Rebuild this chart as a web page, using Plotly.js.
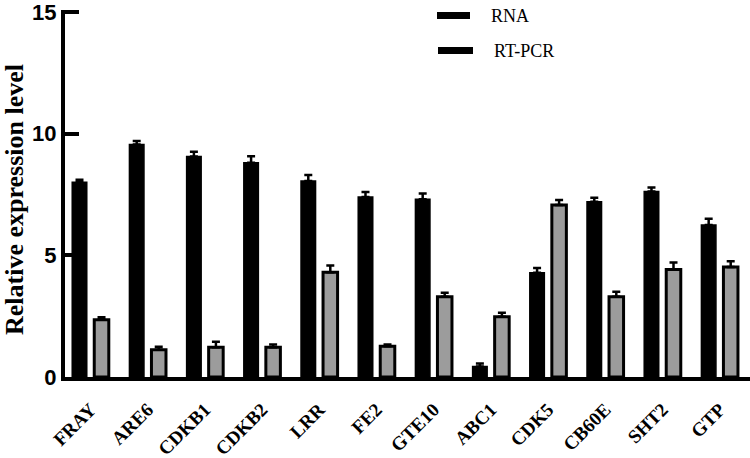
<!DOCTYPE html>
<html>
<head>
<meta charset="utf-8">
<script src="https://cdn.plot.ly/plotly-3.0.1.min.js"></script>
<style>html,body{margin:0;padding:0;background:#fff;}#chart{width:750px;height:458px;}</style>
</head>
<body>
<div id="chart"></div>
<script>
const genes = ["FRAY","ARE6","CDKB1","CDKB2","LRR","FE2","GTE10","ABC1","CDK5","CB60E","SHT2","GTP"];
const rnaValues = [8.0, 9.55, 9.06, 8.8, 8.05, 7.4, 7.3, 0.43, 4.28, 7.2, 7.62, 6.25];
const rnaErrors = [0.1, 0.15, 0.2, 0.27, 0.25, 0.2, 0.24, 0.12, 0.2, 0.17, 0.17, 0.25];
const pcrValues = [2.35, 1.12, 1.22, 1.22, 4.3, 1.26, 3.3, 2.48, 7.07, 3.3, 4.42, 4.52];
const pcrErrors = [0.1, 0.12, 0.23, 0.12, 0.28, 0.08, 0.16, 0.16, 0.2, 0.2, 0.28, 0.24];
const seriesNames = ["RNA", "RT-PCR"];
const yTicks = [0, 5, 10, 15];
const yMax = 15;

const W = 750, H = 458;
const M = {l: 65, r: 0, t: 10, b: 81};
const PW = W - M.l - M.r, PH = H - M.t - M.b;
const px = x => (x - M.l) / PW;
const py = y => 1 - (y - M.t) / PH;

const serif = "Liberation Serif, Times New Roman, serif";
const sans = "Liberation Sans, Arial, sans-serif";

const traces = [
  {type: "bar", name: seriesNames[0], x: genes, y: rnaValues,
   marker: {color: "#000000", line: {color: "#000000", width: 1.5}},
   error_y: {type: "data", array: rnaErrors, symmetric: false, arrayminus: rnaErrors.map(() => 0),
             color: "#000000", thickness: 2.5, width: 4}},
  {type: "bar", name: seriesNames[1], x: genes, y: pcrValues,
   marker: {color: "#9c9c9c", line: {color: "#000000", width: 3}},
   error_y: {type: "data", array: pcrErrors, symmetric: false, arrayminus: pcrErrors.map(() => 0),
             color: "#000000", thickness: 2.5, width: 4}}
];

const layout = {
  width: W, height: H,
  margin: M,
  paper_bgcolor: "#ffffff", plot_bgcolor: "#ffffff",
  showlegend: false,
  barmode: "group",
  bargap: 0.23,
  bargroupgap: 0.34,
  xaxis: {
    type: "category",
    range: [-0.446, 11.53],
    showline: true, linecolor: "#000000", linewidth: 4,
    ticks: "", showgrid: false, zeroline: false,
    tickangle: -45,
    tickfont: {family: serif, size: 19, color: "#000000", weight: "bold"},
    ticklabelstandoff: 10
  },
  yaxis: {
    range: [0, 15.08],
    tickvals: yTicks,
    ticktext: yTicks.map(String),
    showline: true, linecolor: "#000000", linewidth: 4,
    ticks: "inside", ticklen: 14, tickwidth: 4, tickcolor: "#000000",
    ticklabeloverflow: "allow",
    showgrid: false, zeroline: false,
    tickfont: {family: sans, size: 22, color: "#000000", weight: "bold"}
  },
  shapes: [
    {type: "line", xref: "paper", yref: "y", x0: px(63), x1: px(79), y0: yMax, y1: yMax,
     line: {color: "#000000", width: 4}},
    {type: "rect", xref: "paper", yref: "paper", x0: px(437), x1: px(470), y0: py(12), y1: py(19),
     fillcolor: "#000000", line: {width: 0}},
    {type: "rect", xref: "paper", yref: "paper", x0: px(438), x1: px(473), y0: py(47), y1: py(54),
     fillcolor: "#000000", line: {width: 0}}
  ],
  annotations: [
    {text: seriesNames[0], xref: "paper", yref: "paper", x: px(489), y: py(16), xanchor: "left", yanchor: "middle",
     showarrow: false, font: {family: serif, size: 18, color: "#000000"}},
    {text: seriesNames[1], xref: "paper", yref: "paper", x: px(492), y: py(51), xanchor: "left", yanchor: "middle",
     showarrow: false, font: {family: serif, size: 18, color: "#000000"}},
    {text: "Relative expression level", xref: "paper", yref: "paper", x: px(14), y: py(200),
     xanchor: "center", yanchor: "middle", textangle: -90, showarrow: false,
     font: {family: serif, size: 26, color: "#000000", weight: "bold"}}
  ]
};

Plotly.newPlot("chart", traces, layout, {displayModeBar: false, staticPlot: true});
</script>
</body>
</html>
